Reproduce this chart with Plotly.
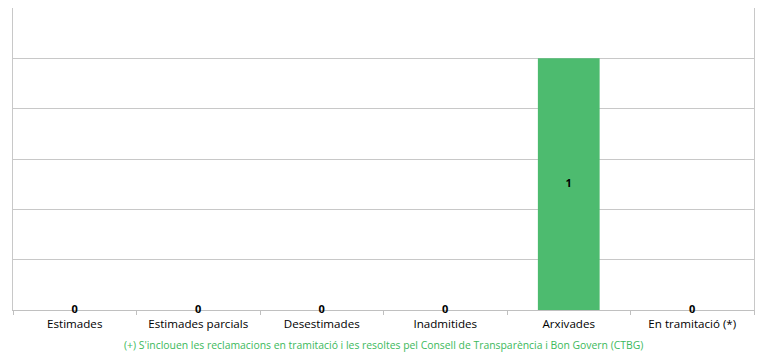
import plotly.graph_objects as go

categories = ["Estimades", "Estimades parcials", "Desestimades", "Inadmitides", "Arxivades", "En tramitació (*)"]
values = [0, 0, 0, 0, 1, 0]
footnote = "(+) S'inclouen les reclamacions en tramitació i les resoltes pel Consell de Transparència i Bon Govern (CTBG)"

fig = go.Figure()
fig.add_trace(go.Bar(x=categories, y=values, marker=dict(color="#4dbb6f", line=dict(width=0)),
                     hoverinfo="x+y"))
fig.add_trace(go.Scatter(x=categories, y=[v / 2 for v in values], mode="text",
                         text=[str(v) for v in values], textposition="middle center",
                         cliponaxis=False,
                         textfont=dict(family="Open Sans", size=11, color="#000000", weight="bold"),
                         hoverinfo="skip"))

fig.update_layout(
    width=775, height=363,
    margin=dict(l=13, r=21, t=8, b=53),
    paper_bgcolor="white", plot_bgcolor="white",
    showlegend=False, bargap=0.5,
    font=dict(family="Open Sans", size=11, color="#000000"),
    xaxis=dict(showgrid=False, showline=True, linecolor="#c0c0c0", linewidth=1,
               ticks="outside", tickson="boundaries", ticklen=4, tickcolor="#c0c0c0",
               ticklabelstandoff=3, layer="below traces",
               tickfont=dict(family="Open Sans", size=11.6, color="#000000")),
    yaxis=dict(range=[0, 1.2], dtick=0.2, showticklabels=False, showgrid=True,
               gridcolor="#c8c8c8", gridwidth=1, zeroline=False, layer="below traces",
               showline=True, mirror=True, linecolor="#c8c8c8", linewidth=1, ticks=""),
    annotations=[dict(text=footnote, x=0.5, xref="paper", y=-0.086, yref="paper",
                      yanchor="top", showarrow=False,
                      font=dict(family="Open Sans", size=10.4, color="#3cb95c"))],
)

fig.write_html("out.html")
